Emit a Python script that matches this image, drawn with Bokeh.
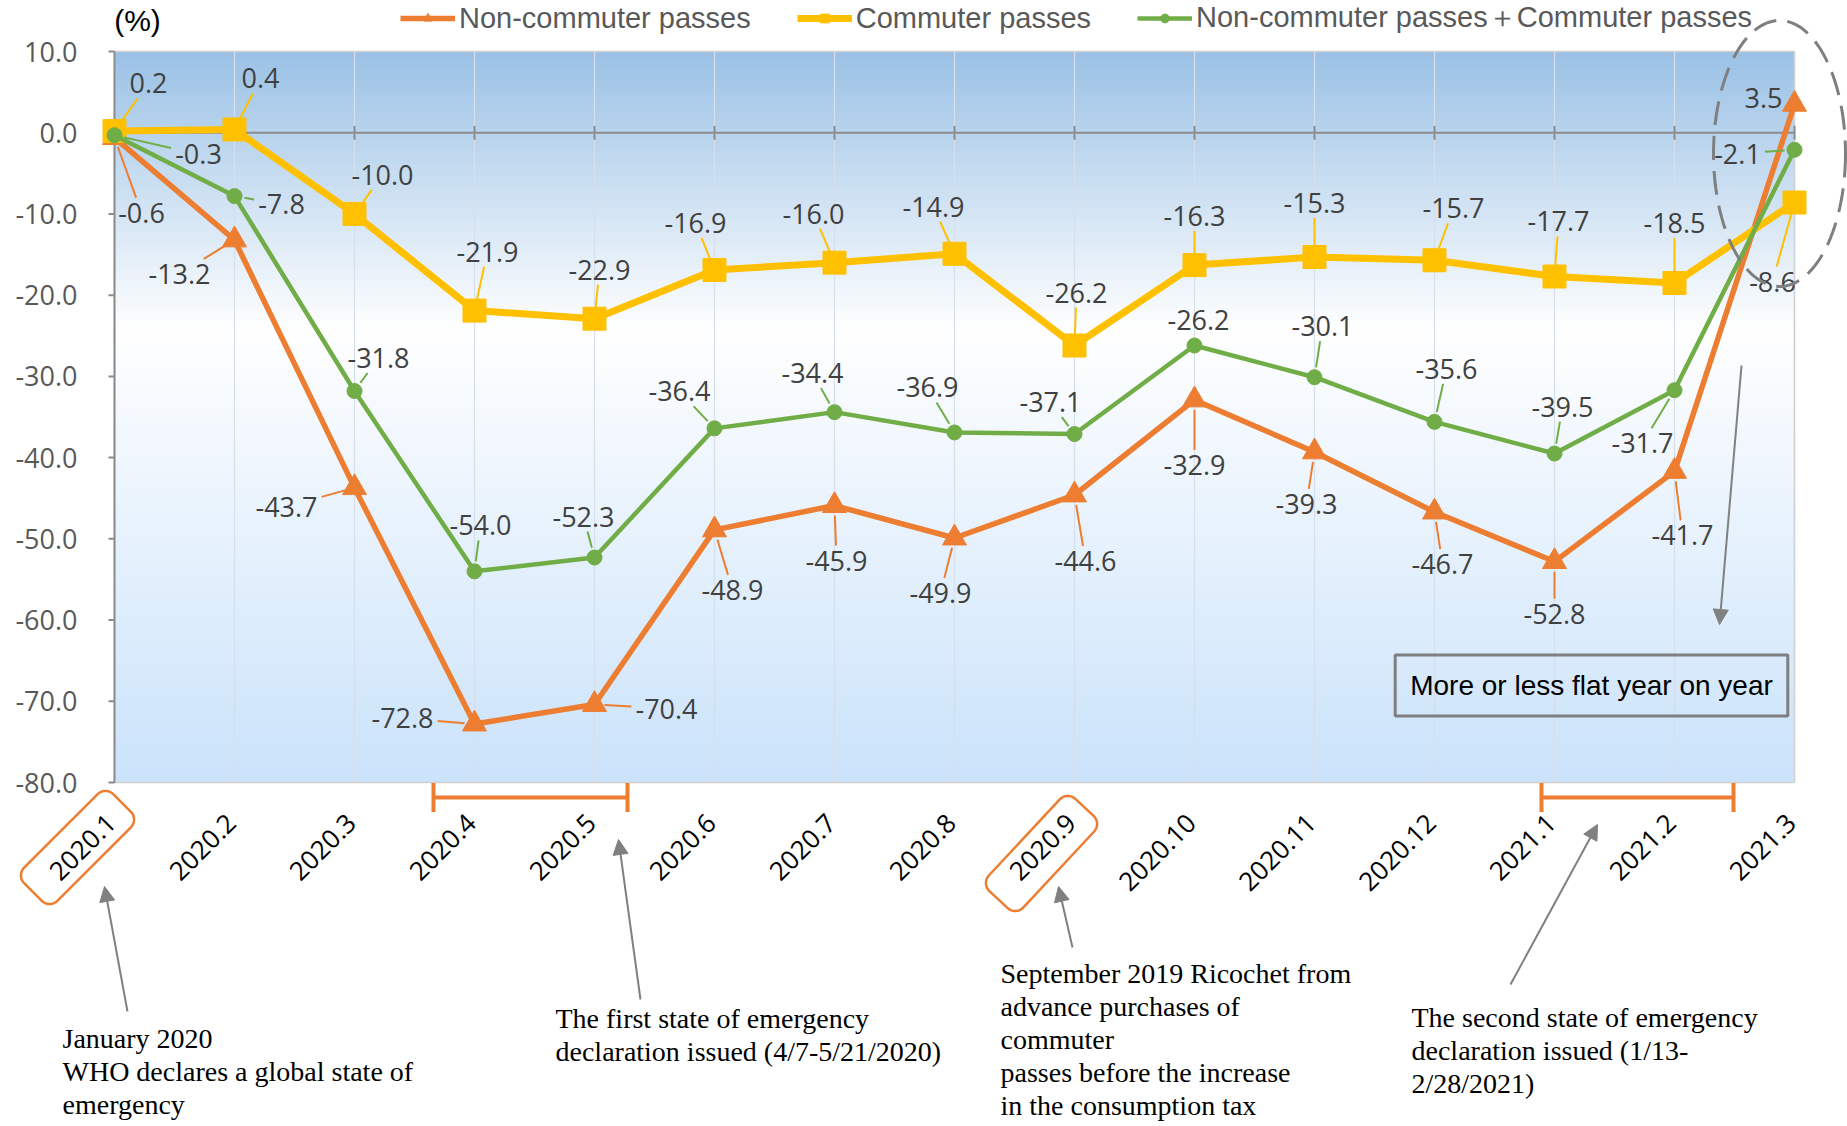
import math
import numpy as np
from bokeh.plotting import figure
from bokeh.models import (Range1d, Legend, LegendItem, Label, Arrow, NormalHead, TeeHead,
                          PolyAnnotation, ColumnDataSource)
from bokeh.core.properties import value
from bokeh.embed import file_html
from bokeh.resources import INLINE

# ---------------- data ----------------
categories = ["2020.1", "2020.2", "2020.3", "2020.4", "2020.5", "2020.6", "2020.7", "2020.8",
              "2020.9", "2020.10", "2020.11", "2020.12", "2021.1", "2021.2", "2021.3"]
non_commuter = [-0.6, -13.2, -43.7, -72.8, -70.4, -48.9, -45.9, -49.9, -44.6, -32.9, -39.3, -46.7, -52.8, -41.7, 3.5]
commuter = [0.2, 0.4, -10.0, -21.9, -22.9, -16.9, -16.0, -14.9, -26.2, -16.3, -15.3, -15.7, -17.7, -18.5, -8.6]
combined = [-0.3, -7.8, -31.8, -54.0, -52.3, -36.4, -34.4, -36.9, -37.1, -26.2, -30.1, -35.6, -39.5, -31.7, -2.1]
y_ticks = [-80, -70, -60, -50, -40, -30, -20, -10, 0, 10]

# label offsets in pixels (dx right, dy down) -- positions only
off_non = [(27, 75), (-55, 34), (-68, 19), (-72, -6), (72, 4), (18, 60), (2, 55), (-14, 55), (11, 66),
           (0, 65), (-8, 52), (8, 52), (0, 52), (8, 64), (-31, -6)]
off_com = [(34, -48), (26, -51), (28, -39), (13, -59), (5, -49), (-19, -47), (-21, -49), (-21, -47),
           (2, -53), (0, -49), (0, -54), (19, -52), (4, -55), (0, -60), (-22, 79)]
off_cmb = [(84, 19), (47, 8), (24, -33), (6, -46), (-11, -41), (-35, -37), (-22, -39), (-27, -45),
           (-24, -32), (4, -26), (8, -51), (12, -53), (8, -47), (-32, 53), (-57, 4)]

ORANGE = "#ED7D31"
YELLOW = "#FFC000"
GREEN = "#70AD47"
GRAY = "#808080"
AXIS = "#8C8C8C"

# ---------------- geometry (canvas px) ----------------
W, H = 1847, 1126
PL, PT, PW, PH = 114, 51, 1680, 731      # plot area on canvas
X0, X1, Y0, Y1 = 0, 14, -80, 10
PX = PW / (X1 - X0)
PY = PH / (Y1 - Y0)


def px2x(cx):
    return X0 + (cx - PL) / PX


def py2y(cy):
    return Y1 - (cy - PT) / PY


p = figure(width=W, height=H, x_range=Range1d(px2x(0), px2x(W)), y_range=Range1d(py2y(H), py2y(0)),
           output_backend="svg", toolbar_location=None, x_axis_type=None, y_axis_type=None,
           min_border=0, min_border_left=0, min_border_right=0, min_border_top=0, min_border_bottom=0)
p.background_fill_color = "white"
p.border_fill_color = "white"
p.outline_line_color = None
p.grid.visible = False

# gradient background of the plot area
n = 300
t = np.linspace(0, 1, n)  # 0 = bottom (-80), 1 = top (10)
stops = [(0.0, (203, 227, 251)), (0.62, (255, 255, 255)), (1.0, (155, 194, 230))]
img = np.zeros((n, 1), dtype=np.uint32)
view = img.view(dtype=np.uint8).reshape((n, 1, 4))
for k in range(n):
    tk = t[k]
    c = stops[-1][1]
    for j in range(len(stops) - 1):
        a, ca = stops[j]
        b, cb = stops[j + 1]
        if a <= tk <= b:
            f = (tk - a) / (b - a)
            c = [int(ca[m] + (cb[m] - ca[m]) * f) for m in range(3)]
            break
    view[k, 0, 0], view[k, 0, 1], view[k, 0, 2], view[k, 0, 3] = c[0], c[1], c[2], 255
p.image_rgba(image=[img], x=X0, y=Y0, dw=X1 - X0, dh=Y1 - Y0, level="image")

xs_idx = list(range(len(categories)))
nc = len(xs_idx)

# vertical grid lines
p.segment(x0=xs_idx, y0=[Y0] * nc, x1=xs_idx, y1=[Y1] * nc, line_color="#D6E0EC", line_width=1.2)
# plot area border
p.quad(left=[X0], right=[X1], bottom=[Y0], top=[Y1], fill_alpha=0, line_color="#D0D0D0", line_width=1.5)

# zero line with category ticks
p.segment(x0=[X0], y0=[0], x1=[X1], y1=[0], line_color=AXIS, line_width=2)
p.segment(x0=xs_idx, y0=[7 / PY] * nc, x1=xs_idx, y1=[-7 / PY] * nc, line_color=AXIS, line_width=2)

# y axis (line, ticks, labels)
p.segment(x0=[X0], y0=[Y0], x1=[X0], y1=[Y1], line_color=AXIS, line_width=2)
p.segment(x0=[X0] * len(y_ticks), y0=y_ticks, x1=[X0 - 6 / PX] * len(y_ticks), y1=y_ticks,
          line_color=AXIS, line_width=2)
p.text(x=[px2x(77)] * len(y_ticks), y=y_ticks, text=[f"{v:.1f}" for v in y_ticks],
       text_align="right", text_baseline="middle", text_font=value("Open Sans"),
       text_font_size="27px", text_color="#595959")

# x category labels (rotated)
p.text(x=[i - 3 / PX for i in xs_idx], y=[py2y(818)] * nc, text=categories, angle=math.pi / 4,
       text_align="right", text_baseline="middle", text_font=value("Open Sans"),
       text_font_size="26px", text_color="black")

# series
r_ol = p.line(xs_idx, non_commuter, line_color=ORANGE, line_width=5.5)
r_om = p.scatter(xs_idx, non_commuter, marker="triangle", size=24, color=ORANGE)
r_yl = p.line(xs_idx, commuter, line_color=YELLOW, line_width=7)
r_ym = p.scatter(xs_idx, commuter, marker="square", size=23, color=YELLOW)
r_gl = p.line(xs_idx, combined, line_color=GREEN, line_width=4.5)
r_gm = p.scatter(xs_idx, combined, marker="circle", size=15, color=GREEN)


# data labels with leader lines
def text_width(s, fs=27):
    w = 0
    for ch in s:
        w += 0.572 if ch.isdigit() else (0.32 if ch == "-" else 0.27)
    return w * fs


def add_labels(vals, offs, color):
    lx, ly, txt = [], [], []
    sx0, sy0, sx1, sy1 = [], [], [], []
    for i, (v, (dx, dy)) in enumerate(zip(vals, offs)):
        s = f"{v:.1f}"
        lx.append(i + dx / PX)
        ly.append(v - dy / PY)
        txt.append(s)
        d = math.hypot(dx, dy)
        ux, uy = dx / d, dy / d
        hw = text_width(s) / 2 + 4
        hh = 15
        tt = min(hw / abs(ux) if abs(ux) > 1e-6 else 1e9, hh / abs(uy) if abs(uy) > 1e-6 else 1e9)
        s0 = 10
        e = d - tt
        if e - s0 > 4:
            sx0.append(i + ux * s0 / PX)
            sy0.append(v - uy * s0 / PY)
            sx1.append(i + ux * e / PX)
            sy1.append(v - uy * e / PY)
    p.segment(x0=sx0, y0=sy0, x1=sx1, y1=sy1, line_color=color, line_width=2)
    src = ColumnDataSource(dict(x=lx, y=ly, t=txt))
    p.text(x="x", y="y", text="t", source=src, text_align="center", text_baseline="middle",
           text_font=value("Open Sans"), text_font_size="27px", text_color="#404040")


add_labels(non_commuter, off_non, ORANGE)
add_labels(commuter, off_com, YELLOW)
add_labels(combined, off_cmb, GREEN)

# legend (top)
legend = Legend(items=[
    LegendItem(label="Non-commuter passes", renderers=[r_ol, r_om]),
    LegendItem(label="Commuter passes", renderers=[r_yl, r_ym]),
    LegendItem(label="Non-commuter passes\uff0bCommuter passes", renderers=[r_gl, r_gm]),
], orientation="horizontal", location=(400, H - 38))
legend.label_text_font = "Liberation Sans"
legend.label_text_font_size = "29px"
legend.label_text_color = "#595959"
legend.glyph_width = 55
legend.glyph_height = 22
legend.label_standoff = 4
legend.spacing = 46
legend.padding = 0
legend.margin = 0
legend.border_line_color = None
legend.background_fill_alpha = 0
p.add_layout(legend, "center")

# "(%)"
p.add_layout(Label(x=px2x(137), y=py2y(20), text="(%)", text_align="center", text_baseline="middle",
                   text_font="Liberation Sans", text_font_size="30px", text_color="black"))

# boxed note inside plot
p.add_layout(Label(x=px2x(1591), y=py2y(685), text="More or less flat year on year",
                   text_align="center", text_baseline="middle", text_font="Liberation Sans",
                   text_font_size="28px", text_color="black", padding=15,
                   border_line_color="#7F7F7F", border_line_width=3))

# dashed ellipse around last month
th = np.linspace(0, 2 * math.pi, 120)
ecx, ecy, ea, eb = 1779, 153, 66, 133
p.add_layout(PolyAnnotation(xs=[px2x(ecx + ea * math.cos(a)) for a in th],
                            ys=[py2y(ecy + eb * math.sin(a)) for a in th],
                            fill_alpha=0, line_color="#7F7F7F", line_alpha=1.0, line_width=3,
                            line_dash="24 11"))


# rounded boxes around two month labels
def rrect(cx, cy, L, T, r, ang):
    pts = []
    hx, hy = L / 2 - r, T / 2 - r
    corners = [(hx, hy, 0), (-hx, hy, 90), (-hx, -hy, 180), (hx, -hy, 270)]
    for (ox, oy, a0) in corners:
        for k in range(9):
            a = math.radians(a0 + k * 90 / 8)
            pts.append((ox + r * math.cos(a), oy + r * math.sin(a)))
    ca, sa = math.cos(math.radians(ang)), math.sin(math.radians(ang))
    xs, ys = [], []
    for lx, ly in pts:
        xs.append(px2x(cx + lx * ca + ly * sa))
        ys.append(py2y(cy - lx * sa + ly * ca))
    return xs, ys


for (cx, cy, ang) in [(77, 847, 45), (1041, 853, 47)]:
    bx, by = rrect(cx, cy, 126, 47, 11, ang)
    p.add_layout(PolyAnnotation(xs=bx, ys=by, fill_alpha=0, line_color=ORANGE, line_alpha=1.0,
                                line_width=2.5))

# emergency brackets
for (a, b) in [(433, 627), (1541, 1733)]:
    p.add_layout(Arrow(start=TeeHead(size=29, line_color=ORANGE, line_width=4),
                       end=TeeHead(size=29, line_color=ORANGE, line_width=4),
                       x_start=px2x(a), y_start=py2y(797), x_end=px2x(b), y_end=py2y(797),
                       line_color=ORANGE, line_width=4))

# pointer arrows
for (tx, ty, hx_, hy_) in [(127, 1011, 104, 886), (640, 999, 618, 839), (1072, 947, 1058, 886),
                           (1510, 984, 1597, 824), (1741, 365, 1719, 624)]:
    p.add_layout(Arrow(end=NormalHead(size=15, fill_color=GRAY, line_color=GRAY),
                       x_start=px2x(tx), y_start=py2y(ty), x_end=px2x(hx_), y_end=py2y(hy_),
                       line_color=GRAY, line_width=2))

# bottom notes
notes = [
    (62, 1022, "January 2020\nWHO declares a global state of\nemergency"),
    (555, 1002, "The first state of emergency\ndeclaration issued (4/7-5/21/2020)"),
    (1000, 957, "September 2019 Ricochet from\nadvance purchases of\ncommuter\npasses before the increase\nin the consumption tax"),
    (1411, 1001, "The second state of emergency\ndeclaration issued (1/13-\n2/28/2021)"),
]
for (x, y, s) in notes:
    p.add_layout(Label(x=px2x(x), y=py2y(y), text=s, text_align="left", text_baseline="top",
                       text_font="Liberation Serif", text_font_size="28px", text_color="black",
                       text_line_height=1.07))

open("out.html", "w").write(file_html(p, INLINE))
